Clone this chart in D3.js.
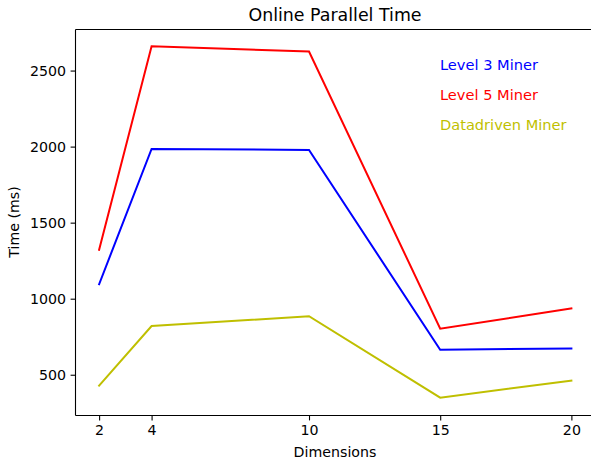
<!DOCTYPE html>
<html><head><meta charset="utf-8">
<script src="https://cdn.jsdelivr.net/npm/d3@7"></script>
<style>body{margin:0;background:#fff}text{font-family:"DejaVu Sans",sans-serif}</style>
</head><body><svg id="c" width="591" height="464"></svg>
<script>
const dims = [2, 4, 10, 15, 20];
const level3 = [1095, 1985, 1978, 664, 673];
const level5 = [1322, 2660, 2625, 803, 936];
const datadriven = [428, 820, 885, 349, 462];
const xTicks = [2, 4, 10, 15, 20];
const yTicks = [500, 1000, 1500, 2000, 2500];
const seriesNames = ["Level 3 Miner", "Level 5 Miner", "Datadriven Miner"];
const seriesColors = ["#0000ff", "#ff0000", "#bfbf00"];
const seriesValues = [level3, level5, datadriven];

const svg = d3.select("#c");
const L = 75.5, R = 595, T = 29.5, B = 415.5;
const x = d3.scaleLinear().domain([1.1, 20.9]).range([L, R]);
const y = d3.scaleLinear().domain([232, 2770]).range([B, T]);

const line = d3.line().x((d,i)=>x(dims[i])).y(d=>y(d));
seriesValues.forEach((vals, k) => {
  svg.append("path").datum(vals).attr("d", line)
    .attr("fill","none").attr("stroke", seriesColors[k]).attr("stroke-width",2)
    .attr("stroke-linejoin","miter").attr("stroke-linecap","square");
});

const xa = svg.append("g").attr("transform",`translate(0,${B})`)
  .call(d3.axisBottom(x).tickValues(xTicks).tickSize(4.9).tickPadding(4.5).tickFormat(d3.format("d")));
const ya = svg.append("g").attr("transform",`translate(${L},0)`)
  .call(d3.axisLeft(y).tickValues(yTicks).tickSize(4.9).tickPadding(4.5).tickFormat(d3.format("d")));
[xa, ya].forEach(g => {
  g.select(".domain").remove();
  g.selectAll("text").attr("font-size","14.2px").attr("fill","#000").attr("font-family","DejaVu Sans");
  g.selectAll("line").attr("stroke","#000").attr("stroke-width",1.1);
});
// spines
svg.append("line").attr("x1",L).attr("x2",L).attr("y1",T).attr("y2",B).attr("stroke","#000").attr("stroke-width",1.1);
svg.append("line").attr("x1",L).attr("x2",R).attr("y1",B).attr("y2",B).attr("stroke","#000").attr("stroke-width",1.1);
svg.append("line").attr("x1",L).attr("x2",R).attr("y1",T).attr("y2",T).attr("stroke","#000").attr("stroke-width",1.1);

svg.append("text").attr("x",335).attr("y",21).attr("text-anchor","middle")
  .attr("font-size","17.4px").text("Online Parallel Time");
svg.append("text").attr("x",335).attr("y",457).attr("text-anchor","middle")
  .attr("font-size","14.2px").text("Dimensions");
svg.append("text").attr("transform","translate(19,222) rotate(-90)").attr("text-anchor","middle")
  .attr("font-size","14.2px").text("Time (ms)");

seriesNames.forEach((n,k) => {
  svg.append("text").attr("x",440).attr("y",70 + 30*k).attr("font-size","14.6px")
    .attr("fill", seriesColors[k]).text(n);
});
</script></body></html>
